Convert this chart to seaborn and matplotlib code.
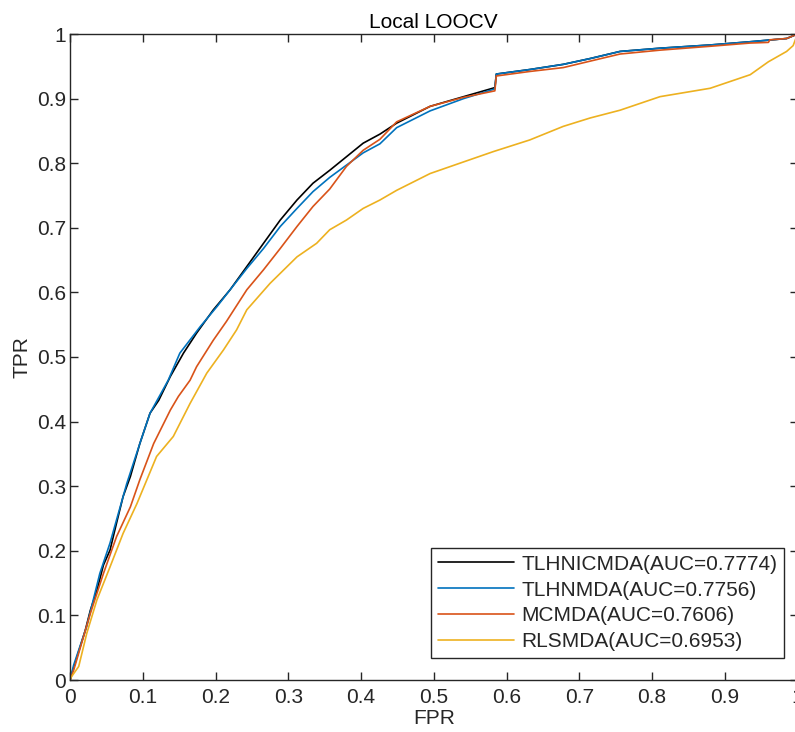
import pandas as pd
import matplotlib
matplotlib.use('Agg')
import matplotlib.pyplot as plt
import seaborn as sns

# ROC points (FPR, TPR) for each method
methods = ['TLHNICMDA(AUC=0.7774)', 'TLHNMDA(AUC=0.7756)',
           'MCMDA(AUC=0.7606)', 'RLSMDA(AUC=0.6953)']
colors = ['#000000', '#0072BD', '#D95319', '#EDB120']

black_fpr = [0, 0.002, 0.021, 0.028, 0.037, 0.046, 0.055, 0.064, 0.073, 0.083, 0.096, 0.110,
             0.122, 0.138, 0.156, 0.174, 0.197, 0.220, 0.243, 0.266, 0.289, 0.312, 0.334,
             0.357, 0.380, 0.403, 0.426, 0.449, 0.495, 0.541, 0.584, 0.586, 0.632, 0.678,
             0.715, 0.756, 0.811, 0.880, 0.935, 0.985, 1.0]
black_tpr = [0, 0.008, 0.077, 0.108, 0.139, 0.178, 0.201, 0.243, 0.284, 0.315, 0.366, 0.413,
             0.433, 0.470, 0.506, 0.537, 0.573, 0.604, 0.640, 0.676, 0.712, 0.743, 0.769,
             0.789, 0.810, 0.831, 0.845, 0.862, 0.888, 0.903, 0.917, 0.938, 0.945, 0.953,
             0.962, 0.973, 0.978, 0.983, 0.988, 0.993, 1.0]

blue_fpr = [0, 0.005, 0.023, 0.041, 0.055, 0.069, 0.078, 0.096, 0.110, 0.135, 0.151, 0.179,
            0.202, 0.220, 0.243, 0.266, 0.289, 0.312, 0.334, 0.357, 0.380, 0.403, 0.426,
            0.449, 0.495, 0.541, 0.584, 0.586, 0.632, 0.678, 0.715, 0.756, 0.811, 0.880,
            0.935, 0.985, 1.0]
blue_tpr = [0, 0.023, 0.083, 0.165, 0.212, 0.268, 0.304, 0.366, 0.413, 0.464, 0.506, 0.547,
            0.578, 0.604, 0.637, 0.668, 0.702, 0.730, 0.756, 0.778, 0.797, 0.816, 0.830,
            0.855, 0.881, 0.900, 0.915, 0.938, 0.945, 0.953, 0.962, 0.973, 0.978, 0.983,
            0.988, 0.993, 1.0]

red_fpr = [0, 0.005, 0.028, 0.046, 0.064, 0.083, 0.096, 0.115, 0.138, 0.149, 0.165, 0.174,
           0.197, 0.215, 0.243, 0.266, 0.289, 0.312, 0.334, 0.357, 0.380, 0.403, 0.426,
           0.449, 0.495, 0.541, 0.584, 0.586, 0.632, 0.678, 0.715, 0.756, 0.811, 0.880,
           0.935, 0.960, 0.962, 0.985, 1.0]
red_tpr = [0, 0.015, 0.103, 0.165, 0.222, 0.268, 0.310, 0.366, 0.418, 0.439, 0.464, 0.485,
           0.526, 0.555, 0.604, 0.635, 0.668, 0.702, 0.733, 0.760, 0.795, 0.820, 0.837,
           0.864, 0.888, 0.902, 0.912, 0.935, 0.942, 0.948, 0.958, 0.969, 0.975, 0.981,
           0.986, 0.987, 0.991, 0.993, 1.0]

yellow_fpr = [0, 0.002, 0.012, 0.023, 0.037, 0.055, 0.073, 0.092, 0.119, 0.142, 0.165, 0.188,
              0.211, 0.229, 0.243, 0.275, 0.312, 0.339, 0.357, 0.380, 0.403, 0.426, 0.449,
              0.495, 0.541, 0.582, 0.632, 0.678, 0.715, 0.756, 0.811, 0.880, 0.935, 0.960,
              0.985, 0.994, 1.0]
yellow_tpr = [0, 0.005, 0.021, 0.072, 0.124, 0.175, 0.227, 0.273, 0.346, 0.377, 0.428, 0.475,
              0.511, 0.542, 0.573, 0.614, 0.655, 0.676, 0.697, 0.712, 0.730, 0.743, 0.758,
              0.784, 0.802, 0.818, 0.836, 0.857, 0.870, 0.882, 0.903, 0.916, 0.937, 0.957,
              0.973, 0.982, 1.0]

xticks = [0, 0.1, 0.2, 0.3, 0.4, 0.5, 0.6, 0.7, 0.8, 0.9, 1]
xticklabels = ['0', '0.1', '0.2', '0.3', '0.4', '0.5', '0.6', '0.7', '0.8', '0.9', '1']

frames = []
for name, fx, ty in zip(methods, [black_fpr, blue_fpr, red_fpr, yellow_fpr],
                        [black_tpr, blue_tpr, red_tpr, yellow_tpr]):
    frames.append(pd.DataFrame({'FPR': fx, 'TPR': ty, 'method': name}))
df = pd.concat(frames, ignore_index=True)

sns.set_style('ticks')
plt.rcParams['font.family'] = ['Liberation Sans', 'DejaVu Sans']
axcol = '#262626'

fig = plt.figure(figsize=(7.95, 7.32), dpi=100)
ax = fig.add_axes([70 / 795, 52 / 732, 727.5 / 795, 646 / 732])

sns.lineplot(data=df, x='FPR', y='TPR', hue='method', hue_order=methods,
             palette=colors, sort=False, estimator=None, linewidth=1.2,
             legend=False, ax=ax)

ax.set_xlim(0, 1)
ax.set_ylim(0, 1)
ax.set_xticks(xticks)
ax.set_xticklabels(xticklabels)
ax.set_yticks(xticks)
ax.set_yticklabels(xticklabels)
ax.tick_params(direction='in', length=5.5, width=1, colors=axcol, labelsize=15,
               top=True, right=True)
ax.tick_params(axis='x', pad=6)
ax.tick_params(axis='y', pad=3)
for s in ax.spines.values():
    s.set_visible(True)
    s.set_color(axcol)
    s.set_linewidth(1)

ax.set_title('Local LOOCV', fontsize=15, color='black', pad=4)
ax.set_xlabel('FPR', fontsize=15, color=axcol, labelpad=1)
ax.set_ylabel('TPR', fontsize=15, color=axcol, labelpad=4)

leg = ax.legend(ax.get_lines(), methods, loc='lower right',
                bbox_to_anchor=(0.981, 0.034), borderaxespad=0, fontsize=15,
                fancybox=False, framealpha=1, edgecolor=axcol,
                handlelength=3.65, handletextpad=0.35, labelspacing=0.33,
                borderpad=0.32)
leg.get_frame().set_linewidth(1)

fig.savefig('out.png', dpi=100)
